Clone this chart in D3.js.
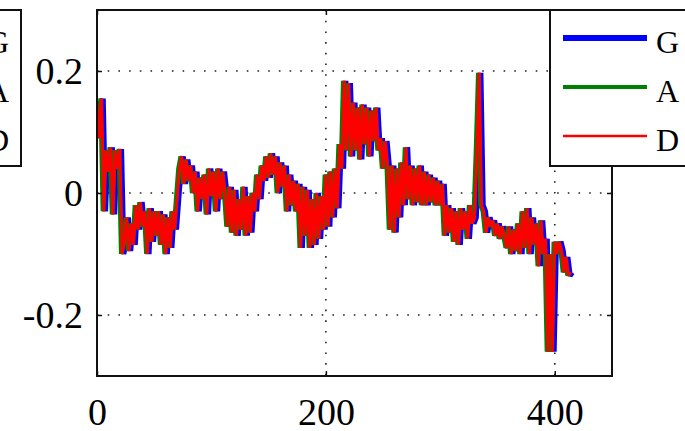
<!DOCTYPE html>
<html>
<head>
<meta charset="utf-8">
<script src="https://cdn.jsdelivr.net/npm/d3@7"></script>
<style>
body { margin: 0; background: #fff; }
svg { display: block; }
</style>
</head>
<body>
<svg id="chart" width="685" height="431"></svg>
<script>
// samples every 2 units along x
var xStep = 2;
var values = [
  0.15, 0.09, 0.155, -0.03, 0.07,
  0.035, 0.075, -0.035, 0.07, 0.04,
  0.072, -0.1, -0.08,
  -0.04, -0.095, -0.05, -0.085,
  -0.02, -0.06, -0.015, -0.055, -0.03,
  -0.1, -0.025, -0.08, -0.03,
  -0.07, -0.03, -0.085, -0.035,
  -0.1, -0.04, -0.09, -0.03, -0.06,
  -0.01, 0.04, 0.06,
  0.015, 0.055, 0.02, 0.045,
  0.0, 0.035, -0.03, 0.025, -0.01, 0.03,
  -0.035, 0.04, -0.005, 0.035, -0.03, 0.04, -0.01, 0.035, 0.0,
  -0.055, 0.01, -0.065,
  0.005, -0.07, -0.01, -0.06, 0.01, -0.07, -0.005, -0.065, 0.0,
  -0.03, 0.03, -0.01, 0.045,
  0.02, 0.06, 0.025, 0.065, 0.03, 0.06,
  0.0, 0.05, 0.01, 0.045,
  -0.03, 0.03, -0.02, 0.02, -0.03, 0.015,
  -0.09, 0.01, -0.07, 0.005, -0.09, -0.01, -0.085,
  0.0, -0.075, -0.005, -0.06,
  0.03, -0.055, 0.035, -0.04, 0.04,
  -0.025, 0.08, 0.04,
  0.184, 0.07, 0.18,
  0.06, 0.148, 0.07, 0.14,
  0.055, 0.145, 0.08, 0.14, 0.06, 0.135, 0.085, 0.14, 0.07,
  0.09, 0.04, 0.085, 0.045,
  -0.06, 0.045, -0.065, 0.04, -0.04, 0.05,
  -0.02, 0.075, -0.01,
  0.045, -0.02, 0.04, -0.015, 0.045, -0.02, 0.035,
  -0.02, 0.03, -0.015, 0.025, -0.02, 0.02, -0.02, 0.015,
  -0.07, -0.02, -0.065, -0.025, -0.08, -0.03, -0.085, -0.025, -0.06, -0.03, -0.075, -0.02, -0.05, -0.04,
  0.07, 0.197, -0.02, -0.03,
  -0.065, -0.04, -0.055, -0.045, -0.07, -0.05, -0.075, -0.055, -0.07,
  -0.09, -0.055, -0.1, -0.06, -0.095, -0.05,
  -0.1, -0.03, -0.09, -0.025, -0.1, -0.04, -0.085,
  -0.05, -0.12, -0.045, -0.1, -0.075,
  -0.26, -0.1, -0.26, -0.08,
  -0.1, -0.08, -0.095,
  -0.13, -0.105, -0.135, -0.13
];
// the three curves lie on top of each other in the picture
var seriesG = values;
var seriesA = values;
var seriesD = values;

var seriesNames = ["G", "A", "D"];
var seriesColors = ["#0000ff", "#008000", "#ff0000"];
var seriesWidths = [6, 4.5, 3];
var legendWidths = [6, 4, 2.5];
var seriesNudge = [1.2, -1, 0];

var xTicks = [0, 200, 400];
var yTicks = [-0.2, 0, 0.2];
var xTickLabels = ["0", "200", "400"];
var yTickLabels = ["-0.2", "0", "0.2"];

var svg = d3.select("#chart");
var axL = 97, axR = 612, axT = 10, axB = 376;

var x = d3.scaleLinear().domain([0, 450]).range([axL, axR]);
var y = d3.scaleLinear().domain([-0.3, 0.3]).range([axB, axT]);

var font = "'Liberation Serif', 'Times New Roman', serif";

// grid
var grid = svg.append("g");
grid.selectAll("line.gx")
  .data(xTicks.filter(function(d){ return d > 0; }))
  .enter().append("line")
  .attr("x1", function(d){ return x(d); })
  .attr("x2", function(d){ return x(d); })
  .attr("y1", axT).attr("y2", axB)
  .attr("stroke", "#222").attr("stroke-width", 1.6)
  .attr("stroke-dasharray", "1.6 9.1");
grid.selectAll("line.gy")
  .data(yTicks)
  .enter().append("line")
  .attr("x1", axL).attr("x2", axR)
  .attr("y1", function(d){ return y(d); })
  .attr("y2", function(d){ return y(d); })
  .attr("stroke", "#222").attr("stroke-width", 1.6)
  .attr("stroke-dasharray", "1.6 9.1");

// curves
var allSeries = [seriesG, seriesA, seriesD];
var line = d3.line()
  .x(function(d, i){ return x(i * xStep); })
  .y(function(d){ return y(d); });

svg.append("defs").append("clipPath").attr("id", "plotclip")
  .append("rect").attr("x", axL).attr("y", axT)
  .attr("width", axR - axL).attr("height", axB - axT);

var plot = svg.append("g").attr("clip-path", "url(#plotclip)");
allSeries.forEach(function(s, k){
  plot.append("path")
    .datum(s)
    .attr("d", line)
    .attr("transform", "translate(" + seriesNudge[k] + ",0)")
    .attr("fill", "none")
    .attr("stroke", seriesColors[k])
    .attr("stroke-width", seriesWidths[k])
    .attr("stroke-linejoin", "bevel")
    .attr("stroke-linecap", "butt");
});

// frame
svg.append("rect")
  .attr("x", axL).attr("y", axT)
  .attr("width", axR - axL).attr("height", axB - axT)
  .attr("fill", "none").attr("stroke", "#111").attr("stroke-width", 2);

// axes with inward ticks
function styleAxis(g){
  g.select(".domain").remove();
  g.selectAll(".tick line").attr("stroke", "#111").attr("stroke-width", 1.5);
  g.selectAll("text")
    .attr("fill", "#000")
    .style("font-family", font)
    .style("font-size", "38px");
}

svg.append("g")
  .attr("transform", "translate(" + axL + ",0)")
  .call(d3.axisLeft(y).tickValues(yTicks).tickSize(-5).tickPadding(14)
    .tickFormat(function(d, i){ return yTickLabels[i]; }))
  .call(styleAxis);

svg.append("g")
  .attr("transform", "translate(" + axR + ",0)")
  .call(d3.axisRight(y).tickValues(yTicks).tickSize(-5).tickFormat(""))
  .call(styleAxis);

svg.append("g")
  .attr("transform", "translate(0," + axB + ")")
  .call(d3.axisBottom(x).tickValues(xTicks).tickSize(-5).tickPadding(22)
    .tickFormat(function(d, i){ return xTickLabels[i]; }))
  .call(styleAxis);

svg.append("g")
  .attr("transform", "translate(0," + axT + ")")
  .call(d3.axisTop(x).tickValues(xTicks).tickSize(-5).tickFormat(""))
  .call(styleAxis);

// legends (one cut off at the left edge, one at the right)
function drawLegend(boxX, boxW, lineX1, lineX2, textX, anchor){
  var g = svg.append("g");
  g.append("rect")
    .attr("x", boxX).attr("y", axT)
    .attr("width", boxW).attr("height", 156)
    .attr("fill", "#fff").attr("stroke", "#111").attr("stroke-width", 2);
  var rowY = [38, 87, 136];
  seriesNames.forEach(function(name, k){
    if (lineX2 > lineX1) {
      g.append("line")
        .attr("x1", lineX1).attr("x2", lineX2)
        .attr("y1", rowY[k]).attr("y2", rowY[k])
        .attr("stroke", seriesColors[k])
        .attr("stroke-width", legendWidths[k]);
    }
    g.append("text")
      .attr("x", textX).attr("y", rowY[k] + 15)
      .attr("text-anchor", anchor)
      .style("font-family", font)
      .style("font-size", "32px")
      .text(name);
  });
}
drawLegend(-160, 181, 0, 0, 9, "end");
drawLegend(550, 200, 563, 647, 656, "start");
</script>
</body>
</html>
